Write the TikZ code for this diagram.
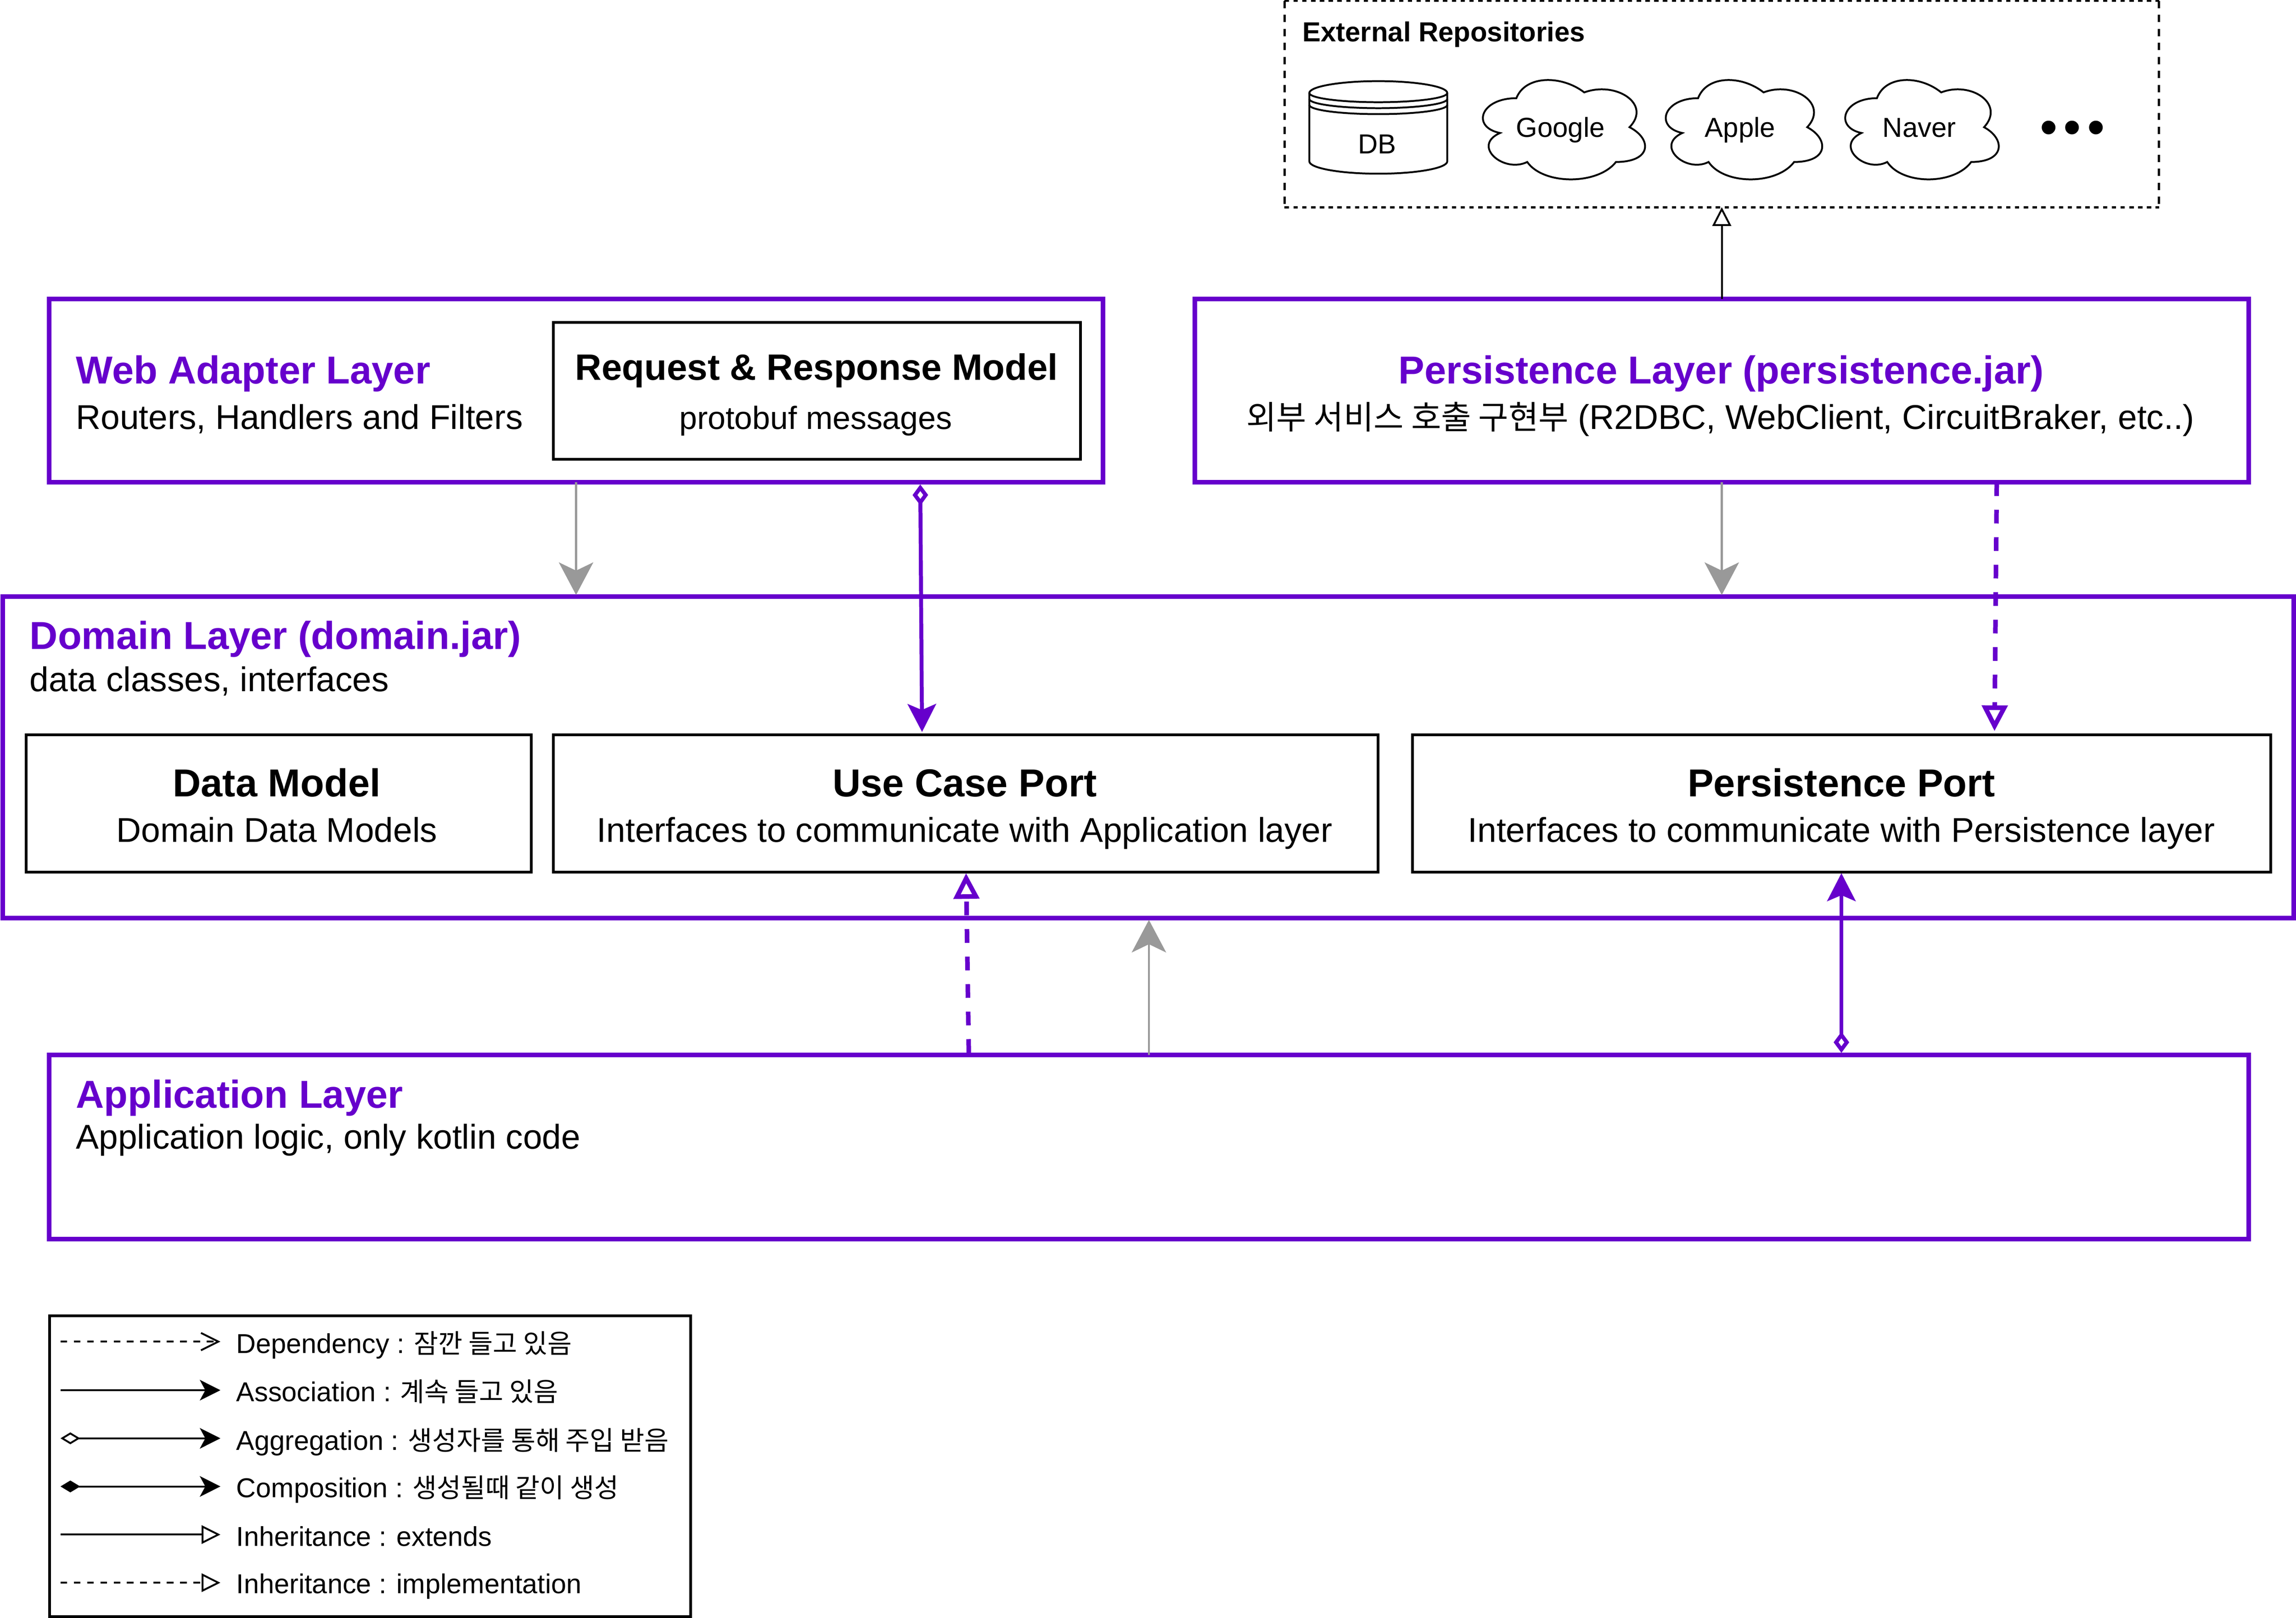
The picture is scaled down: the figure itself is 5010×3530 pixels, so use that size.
\documentclass[tikz,border=0pt]{standalone}
\usepackage{fontspec}
\setmainfont{Liberation Sans}
\newfontfamily\kr[Scale=0.97]{Noto Sans CJK KR}
\newfontfamily\krbody[Scale=0.95]{Noto Sans CJK KR}
\usetikzlibrary{arrows.meta}
\definecolor{violetline}{HTML}{6600CC}
\definecolor{greyline}{HTML}{999999}
\newcommand\areabox[6]{\node[#6,minimum width={0.2pt*(#4-#2)},minimum height={0.2pt*(#5-#3)}] (#1) at ({(#2+#4)/2},{(#3+#5)/2}) {};}
\newcommand\cloudat[4]{%
\begin{scope}[shift={(#1,#2)},x=#3*0.2pt,y=#4*-0.2pt]
\draw[thinline,fill=white] (0.25,0.25) .. controls (0.05,0.25) and (0,0.5) .. (0.16,0.55)
 .. controls (0,0.66) and (0.18,0.9) .. (0.31,0.8)
 .. controls (0.4,1) and (0.7,1) .. (0.8,0.8)
 .. controls (1,0.8) and (1,0.6) .. (0.875,0.5)
 .. controls (1,0.3) and (0.8,0.1) .. (0.625,0.2)
 .. controls (0.5,0.05) and (0.3,0.05) .. (0.25,0.25) -- cycle;
\end{scope}}
\tikzset{
 layerbox/.style={draw=violetline,line width=2pt,rectangle,inner sep=0pt,outer sep=0pt},
 innerbox/.style={draw=black,line width=1.2pt,rectangle,inner sep=0pt,outer sep=0pt},
 extbox/.style={rectangle,inner sep=0pt,outer sep=0pt},
 extedgeh/.style={draw=black,line width=1pt,dash pattern=on 1.92pt off 1.92pt},
 extedgev/.style={draw=black,line width=1pt,dash pattern=on 3.2pt off 2.9pt},
 legbox/.style={draw=black,line width=1.28pt,rectangle,inner sep=0pt,outer sep=0pt},
 thinline/.style={draw=black,line width=0.8pt},
 txt/.style={inner sep=0pt,outer sep=0pt},
 layertitle/.style={txt,text=violetline,font=\fontsize{17}{20}\selectfont\bfseries},
 boxtitle/.style={txt,font=\fontsize{17}{20}\selectfont\bfseries},
 bodytext/.style={txt,font=\fontsize{15}{18}\selectfont},
 smalltext/.style={txt,font=\fontsize{12}{14}\selectfont},
 legtext/.style={txt,anchor=base west,font=\fontsize{11.9}{14}\selectfont},
 greyarrow/.style={draw=greyline,line width=0.85pt,shorten >=0.8pt,-{Stealth[length=14.2pt,width=15pt,inset=3.6pt,greyline]}},
 assocarrow/.style={draw=violetline,line width=1.7pt,shorten <=1pt,{Diamond[open,fill=white,length=9.2pt,width=6.8pt]}-{Stealth[length=12.2pt,width=12.4pt,inset=2.6pt]}},
 implarrow/.style={draw=violetline,line width=2pt,dash pattern=on 6pt off 6pt,-{Triangle[open,fill=white,length=11.2pt,width=11pt]}},
 legline/.style={draw=black,line width=0.8pt},
 legdash/.style={legline,dash pattern=on 2.9pt off 2.9pt},
 depend/.style={-{Straight Barb[length=7.6pt,width=7.6pt]}},
 assoc/.style={-{Stealth[length=9pt,width=9pt,inset=2.4pt]}},
 aggreg/.style={{Diamond[open,fill=white,length=8.6pt,width=5.2pt]}-{Stealth[length=9pt,width=9pt,inset=2.4pt]}},
 compos/.style={{Diamond[length=8.6pt,width=5.2pt]}-{Stealth[length=9pt,width=9pt,inset=2.4pt]}},
 inherit/.style={-{Triangle[open,fill=white,length=8.2pt,width=8pt]}},
}
\begin{document}
\begin{tikzpicture}[x=0.2pt,y=-0.2pt]
\useasboundingbox (0,0) rectangle (5010,3530);
\fill[white] (0,0) rectangle (5010,3530);

% external repositories
\areabox{ext}{2803}{2}{4711}{452}{extbox}
\draw[extedgeh] (ext.north west) -- (ext.north east);
\draw[extedgev] (ext.north east) -- (ext.south east);
\draw[extedgeh] (ext.south west) -- (ext.south east);
\draw[extedgev] (ext.north west) -- (ext.south west);
\node[txt,anchor=base west,font=\fontsize{12}{14}\selectfont\bfseries] (exttitle) at (2842,91) {External Repositories};
% database
\draw[thinline,fill=white] (2857,203) -- (2857,352) arc[start angle=180,end angle=0,x radius=150.5,y radius=27] -- (3158,203)
  arc[start angle=0,end angle=-180,x radius=150.5,y radius=26] -- cycle;
\draw[thinline] (2857,203) arc[start angle=180,end angle=0,x radius=150.5,y radius=20];
\draw[thinline] (2857,216) arc[start angle=180,end angle=0,x radius=150.5,y radius=20];
\draw[thinline] (2857,229) arc[start angle=180,end angle=0,x radius=150.5,y radius=20];
\node[smalltext] (db) at (3005,315) {DB};
\cloudat{3210}{151}{395}{253}
\cloudat{3610}{151}{381}{253}
\cloudat{4002}{151}{374}{253}
\node[smalltext,anchor=base] (google) at (3405,299) {Google};
\node[smalltext,anchor=base] (apple) at (3797,299) {Apple};
\node[smalltext,anchor=base] (naver) at (4188,299) {Naver};
\node[txt,anchor=center,font=\fontsize{22}{24}\selectfont] (dots) at (4522,289) {•\kern2.6pt•\kern2.6pt•};

% layers
\areabox{web}{107.5}{652}{2407}{1052}{layerbox}
\areabox{request}{1207}{703}{2358}{1002}{innerbox}
\areabox{persist}{2607}{652}{4907}{1052}{layerbox}
\areabox{domain}{6}{1302}{5005}{2003}{layerbox}
\areabox{datamodel}{57}{1603}{1159}{1903}{innerbox}
\areabox{usecase}{1207}{1603}{3007}{1903}{innerbox}
\areabox{persistport}{3082}{1603}{4955}{1903}{innerbox}
\areabox{application}{107.5}{2302}{4907}{2703}{layerbox}
\areabox{legend}{108}{2871}{1507}{3527}{legbox}

\node[layertitle,anchor=base west] (webtitle) at (166,837) {Web Adapter Layer};
\node[bodytext,anchor=base west] (websub) at (166,936) {Routers, Handlers and Filters};
\node[boxtitle,font=\fontsize{16}{20}\selectfont\bfseries,anchor=base] (reqtitle) at (1782,829) {Request \& Response Model};
\node[bodytext,font=\fontsize{14}{18}\selectfont,anchor=base] (reqsub) at (1780,936) {protobuf messages};
\node[layertitle,anchor=base] (pertitle) at (3756,837) {Persistence Layer (persistence.jar)};
\node[bodytext,anchor=base] (persub) at (3754,936) {{\krbody 외부 서비스 호출 구현부} (R2DBC, WebClient, CircuitBraker, etc..)};
\node[layertitle,anchor=base west] (domtitle) at (65,1416) {Domain Layer (domain.jar)};
\node[bodytext,anchor=base west] (domsub) at (65,1508) {data classes, interfaces};
\node[boxtitle,anchor=base] (dmtitle) at (604,1738) {Data Model};
\node[bodytext,anchor=base] (dmsub) at (604,1837) {Domain Data Models};
\node[boxtitle,anchor=base] (uctitle) at (2105,1738) {Use Case Port};
\node[bodytext,anchor=base] (ucsub) at (2105,1837) {Interfaces to communicate with Application layer};
\node[boxtitle,anchor=base] (pptitle) at (4018,1738) {Persistence Port};
\node[bodytext,anchor=base] (ppsub) at (4018,1837) {Interfaces to communicate with Persistence layer};
\node[layertitle,anchor=base west] (apptitle) at (166,2417) {Application Layer};
\node[bodytext,anchor=base west] (appsub) at (166,2506) {Application logic, only kotlin code};

% connectors
\draw[thinline,-{Triangle[open,fill=white,length=8.2pt,width=8.2pt]}] (3757,0 |- persist.north) -- (3757,0 |- ext.south);
\draw[greyarrow] (1257,0 |- web.south) -- (1257,0 |- domain.north);
\draw[greyarrow] (3757,0 |- persist.south) -- (3757,0 |- domain.north);
\draw[greyarrow] (2507,0 |- application.north) -- (2507,0 |- domain.south);
\draw[assocarrow,shorten >=1.2pt] (2008,0 |- web.south) -- (2012,0 |- usecase.north);
\draw[assocarrow,shorten >=0.4pt] (4018,0 |- application.north) -- (4018,0 |- persistport.south);
\draw[implarrow,shorten <=1pt,shorten >=0.4pt] (2114,0 |- application.north) -- (2108,0 |- usecase.south);
\draw[implarrow,shorten >=1.6pt] (4357,0 |- persist.south) -- (4352,0 |- persistport.north);

% legend
\coordinate (l1a) at (132,2927); \coordinate (l1b) at (481,2927);
\coordinate (l2a) at (132,3033); \coordinate (l2b) at (481,3033);
\coordinate (l3a) at (132,3138); \coordinate (l3b) at (481,3138);
\coordinate (l4a) at (132,3243); \coordinate (l4b) at (481,3243);
\coordinate (l5a) at (132,3348); \coordinate (l5b) at (481,3348);
\coordinate (l6a) at (132,3453); \coordinate (l6b) at (481,3453);
\draw[legdash,depend] (l1a) -- (l1b);
\draw[legline,assoc] (l2a) -- (l2b);
\draw[legline,aggreg] (l3a) -- (l3b);
\draw[legline,compos] (l4a) -- (l4b);
\draw[legline,inherit] (l5a) -- (l5b);
\draw[legdash,inherit] (l6a) -- (l6b);
\node[legtext] (t1) at (516,2952) {Dependency : \kern-.4pt{\kr 잠깐 들고 있음}};
\node[legtext] (t2) at (516,3058) {Association : \kern-.4pt{\kr 계속 들고 있음}};
\node[legtext] (t3) at (516,3164) {Aggregation : \kern-.4pt{\kr 생성자를 통해 주입 받음}};
\node[legtext] (t4) at (516,3267) {Composition : \kern-.4pt{\kr 생성될때 같이 생성}};
\node[legtext] (t5) at (516,3373) {Inheritance : extends};
\node[legtext] (t6) at (516,3476) {Inheritance : implementation};
\end{tikzpicture}
\end{document}
